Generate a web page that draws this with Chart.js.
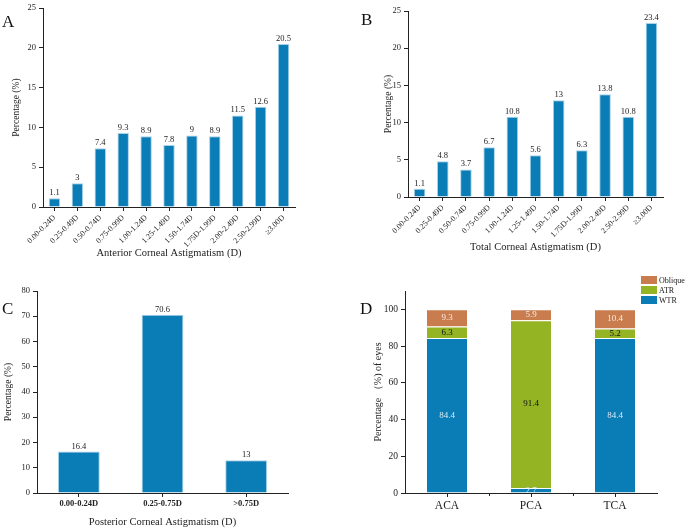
<!DOCTYPE html>
<html>
<head>
<meta charset="utf-8">
<script src="https://cdn.jsdelivr.net/npm/chart.js@4.4.1/dist/chart.umd.min.js"></script>
<style>
body { margin: 0; background: #fff; font-family: "Liberation Serif", serif; }
#wrap { position: relative; width: 685px; height: 529px; overflow: hidden; }
canvas { position: absolute; }
.tag { position: absolute; font-size: 17px; line-height: 17px; color: #111; }
#legend { position: absolute; left: 641px; top: 276px; font-size: 8px; color: #222; }
#legend div { height: 10px; line-height: 9px; white-space: nowrap; }
#legend span { display: inline-block; width: 16px; height: 8px; margin-right: 2px; vertical-align: top; }
</style>
</head>
<body>
<div id="wrap">
  <canvas id="chartA" style="left:0;top:0" width="340" height="270"></canvas>
  <canvas id="chartB" style="left:340px;top:0" width="345" height="270"></canvas>
  <canvas id="chartC" style="left:0;top:270px" width="340" height="259"></canvas>
  <canvas id="chartD" style="left:340px;top:270px" width="345" height="259"></canvas>
  <div class="tag" style="left:2px;top:13px">A</div>
  <div class="tag" style="left:361px;top:11px">B</div>
  <div class="tag" style="left:2px;top:300px">C</div>
  <div class="tag" style="left:360px;top:300px">D</div>
  <div id="legend"></div>
</div>
<script>
const rangeLabels = ['0.00-0.24D', '0.25-0.49D', '0.50-0.74D', '0.75-0.99D', '1.00-1.24D', '1.25-1.49D',
    '1.50-1.74D', '1.75D-1.99D', '2.00-2.49D', '2.50-2.99D', '≥3.00D'];
const anteriorValues = [1.1, 3, 7.4, 9.3, 8.9, 7.8, 9, 8.9, 11.5, 12.6, 20.5];
const totalValues = [1.1, 4.8, 3.7, 6.7, 10.8, 5.6, 13, 6.3, 13.8, 10.8, 23.4];
const posteriorLabels = ['0.00-0.24D', '0.25-0.75D', '>0.75D'];
const posteriorValues = [16.4, 70.6, 13];
const typeLabels = ['ACA', 'PCA', 'TCA'];
const wtrValues = [84.4, 2.7, 84.4];
const atrValues = [6.3, 91.4, 5.2];
const obliqueValues = [9.3, 5.9, 10.4];

const serif = '"Liberation Serif", "Times New Roman", serif';
const ink = '#222';
const blue = '#0a7cb6';
const edge = '#a8d2e8';

// draws the numbers on top of (or inside) each bar
const valueLabels = {
    id: 'valueLabels',
    afterDatasetsDraw(chart, args, opts) {
        const ctx = chart.ctx;
        ctx.save();
        ctx.font = opts.size + 'px ' + serif;
        ctx.textAlign = 'center';
        chart.data.datasets.forEach((ds, i) => {
            chart.getDatasetMeta(i).data.forEach((bar, j) => {
                const v = ds.data[j];
                if (opts.inside) {
                    ctx.textBaseline = 'middle';
                    ctx.fillStyle = ds.labelColor;
                    ctx.fillText(v, bar.x, (bar.y + bar.base) / 2);
                } else {
                    ctx.textBaseline = 'bottom';
                    ctx.fillStyle = ink;
                    ctx.fillText(v, bar.x, bar.y - 1);
                }
            });
        });
        ctx.restore();
    }
};

// extra small ticks between the categories (panel D)
const betweenTicks = {
    id: 'betweenTicks',
    afterDraw(chart) {
        const x = chart.scales.x;
        const ctx = chart.ctx;
        ctx.save();
        ctx.strokeStyle = ink;
        ctx.lineWidth = 1;
        for (let i = 0; i < chart.data.labels.length - 1; i++) {
            const px = Math.round(x.getPixelForValue(i + 0.5)) + 0.5;
            ctx.beginPath();
            ctx.moveTo(px, x.top);
            ctx.lineTo(px, x.top + 3);
            ctx.stroke();
        }
        ctx.restore();
    }
};

function barChart(id, labels, datasets, o) {
    return new Chart(document.getElementById(id), {
        type: 'bar',
        data: { labels: labels, datasets: datasets },
        plugins: o.extra ? [valueLabels, o.extra] : [valueLabels],
        options: {
            responsive: false,
            animation: false,
            layout: { padding: { left: 0, top: o.top, right: o.right, bottom: 0 } },
            plugins: {
                legend: { display: false },
                tooltip: { enabled: false },
                valueLabels: { size: o.valueSize, inside: o.inside }
            },
            scales: {
                x: {
                    stacked: !!o.stacked,
                    grid: { drawOnChartArea: false, offset: false, color: ink, tickLength: 4 },
                    border: { color: ink, width: 1 },
                    ticks: { color: ink, font: o.xFont, maxRotation: o.rot, minRotation: o.rot, autoSkip: false, padding: 2 },
                    title: { display: true, text: o.xTitle, color: ink, font: { family: serif, size: 10.5 }, padding: { top: 0, bottom: o.xTitleGap } },
                    afterFit: s => { s.height = o.xHeight; }
                },
                y: {
                    stacked: !!o.stacked,
                    min: 0,
                    max: o.max,
                    grid: { drawOnChartArea: false, color: ink, tickLength: 4 },
                    border: { color: ink, width: 1 },
                    ticks: { color: ink, font: { family: serif, size: o.yTickSize }, stepSize: o.step, includeBounds: false, padding: 3 },
                    title: { display: true, text: o.yTitle, color: ink, font: { family: serif, size: o.yTitleSize }, padding: { top: o.yTitleGap, bottom: 0 } },
                    afterFit: s => { s.width = o.yWidth; }
                }
            }
        }
    });
}

function single(values) {
    return [{ data: values, backgroundColor: blue, borderColor: edge, borderWidth: 1, barPercentage: 0.5, categoryPercentage: 1 }];
}

barChart('chartA', rangeLabels, single(anteriorValues), {
    top: 2, right: 45, yWidth: 43, xHeight: 63, max: 25, step: 5, rot: 45,
    xFont: { family: serif, size: 8 }, yTickSize: 8.5, valueSize: 8.5,
    xTitle: 'Anterior Corneal Astigmatism (D)', xTitleGap: 10,
    yTitle: 'Percentage (%)', yTitleSize: 9.5, yTitleGap: 11
});

barChart('chartB', rangeLabels, single(totalValues), {
    top: 11, right: 22, yWidth: 68, xHeight: 73, max: 25, step: 5, rot: 45,
    xFont: { family: serif, size: 8 }, yTickSize: 8.5, valueSize: 8.5,
    xTitle: 'Total Corneal Astigmatism (D)', xTitleGap: 16,
    yTitle: 'Percentage (%)', yTitleSize: 9.5, yTitleGap: 43
});

barChart('chartC', posteriorLabels, single(posteriorValues), {
    top: 21, right: 52, yWidth: 37, xHeight: 36, max: 80, step: 10, rot: 0,
    xFont: { family: serif, size: 8.5, weight: 'bold' }, yTickSize: 8.5, valueSize: 8.5,
    xTitle: 'Posterior Corneal Astigmatism (D)', xTitleGap: 0,
    yTitle: 'Percentage (%)', yTitleSize: 9.5, yTitleGap: 3
});

const stackStyle = { barPercentage: 0.5, categoryPercentage: 1, borderColor: 'rgba(255,255,255,0.6)', borderWidth: 1 };
const chartD = barChart('chartD', typeLabels, [
    Object.assign({ label: 'WTR', data: wtrValues, backgroundColor: blue, labelColor: '#dbe9f2' }, stackStyle),
    Object.assign({ label: 'ATR', data: atrValues, backgroundColor: '#94b424', labelColor: '#111' }, stackStyle),
    Object.assign({ label: 'Oblique', data: obliqueValues, backgroundColor: '#c97d4e', labelColor: '#f6ece4' }, stackStyle)
], {
    top: 21, right: 28, yWidth: 65, xHeight: 36, max: 110, step: 20, rot: 0, stacked: true, inside: true,
    xFont: { family: serif, size: 11.5 }, yTickSize: 9.5, valueSize: 9,
    xTitle: '', xTitleGap: 0, extra: betweenTicks,
    yTitle: 'Percentage （%) of eyes', yTitleSize: 10, yTitleGap: 32
});

// legend, top entry is the top segment
const legend = document.getElementById('legend');
chartD.data.datasets.slice().reverse().forEach(ds => {
    const row = document.createElement('div');
    row.innerHTML = '<span style="background:' + ds.backgroundColor + '"></span>' + ds.label;
    legend.appendChild(row);
});
</script>
</body>
</html>
